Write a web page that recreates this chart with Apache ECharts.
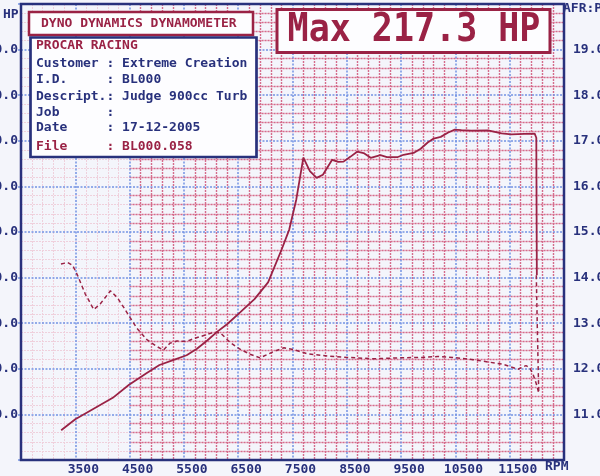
<!DOCTYPE html>
<html>
<head>
<meta charset="utf-8">
<script src="https://cdn.jsdelivr.net/npm/echarts@6/dist/echarts.min.js"></script>
<style>
html,body{margin:0;padding:0;background:#f4f5fb;}
#chart{width:600px;height:476px;}
</style>
</head>
<body>
<div id="chart"></div>
<script>
// ---- data ----
const powerRpm = [3240,3500,3870,4190,4490,4810,5050,5300,5550,5740,5930,6110,6300,6540,6800,7050,7300,7440,7570,7700,7820,7945,8060,8230,8340,8440,8570,8690,8810,8940,9120,9240,9430,9545,9730,9860,9990,10100,10230,10360,10480,10610,10790,11100,11350,11530,11770,11960,11990,12000];
const powerHp  = [19.6,26.8,34.4,40.9,49.5,57.1,62.5,65.7,68.9,73.2,78.6,84.3,89.5,97.3,105.8,116.9,138.5,151.6,171.4,198.9,190.0,185.6,187.7,197.5,196.2,196.3,199.6,202.8,201.9,198.8,200.5,199.3,199.2,200.8,202.0,204.8,208.9,211.5,212.6,215.3,217.3,217.0,216.7,216.9,214.9,214.2,214.6,214.7,212.0,121.5];
const afrRpm = [3236,3360,3451,3541,3684,3840,3958,4147,4274,4395,4510,4635,4818,5000,5123,5241,5370,5555,5680,5866,6052,6169,6350,6533,6718,6901,7156,7342,7526,7773,8143,8513,8975,9437,9899,10176,10453,10823,11100,11377,11652,11800,11870,11930,11985,12035,12010,11990];
const afrValues = [14.30,14.33,14.27,14.05,13.64,13.30,13.42,13.71,13.56,13.34,13.12,12.89,12.64,12.49,12.41,12.56,12.61,12.60,12.66,12.73,12.80,12.79,12.58,12.43,12.32,12.24,12.38,12.46,12.42,12.33,12.28,12.25,12.22,12.24,12.25,12.27,12.25,12.20,12.15,12.10,11.99,12.07,12.02,11.88,11.69,11.47,12.80,14.05];
const rpmTicks = {min:2500, max:12500, step:1000};
const hpTicks  = {min:0, max:300, step:30};
const afrTicks = {min:10, max:20, step:1};
const infoLines = [
  'Customer : Extreme Creation',
  'I.D.     : BL000',
  'Descript.: Judge 900cc Turb',
  'Job      :',
  'Date     : 17-12-2005'
];
const fileLine = 'File     : BL000.058';
const headerText = 'DYNO DYNAMICS DYNAMOMETER';
const companyText = 'PROCAR RACING';
const maxText = 'Max 217.3 HP';

// ---- styling ----
const NAVY = '#28317c';
const MAROON = '#9a2245';
const BLUE = '#7393e4';
const RED = '#d56c8c';
const FAINT = '#efd0dc';
const MONO = '"DejaVu Sans Mono", monospace';

const G = {left:21, top:4, width:543, height:456};
const redLeft = G.left + (4500 - rpmTicks.min) / (rpmTicks.max - rpmTicks.min) * G.width;

const chart = echarts.init(document.getElementById('chart'), null, {renderer:'canvas'});

const hidden = {axisLine:{show:false}, axisTick:{show:false}, axisLabel:{show:false}, splitLine:{show:false}};
const powerData = powerRpm.map((r,i)=>[r, powerHp[i]]);
const afrData = afrRpm.map((r,i)=>[r, afrValues[i]]);

function txt(text, x, y, color, size, align, extra) {
  return Object.assign({
    type:'text', x:x, y:y, z:120,
    style:{text:text, fill:color, fontFamily:MONO, fontWeight:'bold', fontSize:size,
           textAlign:align||'left', textVerticalAlign:'middle'}
  }, extra||{});
}

const graphics = [
  {type:'rect', z:110, shape:{x:29, y:12, width:224, height:23},
   style:{fill:'#fdfdff', stroke:MAROON, lineWidth:2.5}},
  {type:'rect', z:110, shape:{x:30.5, y:37.5, width:226, height:119.5},
   style:{fill:'#fdfdff', stroke:NAVY, lineWidth:2.7}},
  txt(headerText, 41, 23.5, MAROON, 13),
  txt(companyText, 36, 46, MAROON, 13),
  {type:'rect', z:110, shape:{x:277, y:9.5, width:273, height:43},
   style:{fill:'#fdfdff', stroke:MAROON, lineWidth:3}},
  txt(maxText, 414, 30.5, MAROON, 35, 'center', {scaleY:1.14}),
  txt(fileLine, 36, 146.5, MAROON, 13),
  txt('HP', 3, 15, NAVY, 13),
  txt('AFR:P', 563, 9, NAVY, 13),
  txt('RPM', 545, 467, NAVY, 13)
];
const rowsY = [64, 80, 96.5, 112.5, 128];
infoLines.forEach((t,i)=>graphics.push(txt(t, 36, rowsY[i], NAVY, 13)));

const gridBase = {top:G.top, height:G.height, outerBoundsMode:'none', containLabel:false};
const option = {
  backgroundColor:'#f4f5fb',
  animation:false,
  grid:[
    Object.assign({left:G.left, width:G.width, show:false}, gridBase),
    Object.assign({left:redLeft, width:G.left + G.width - redLeft, show:false}, gridBase),
    Object.assign({left:G.left, width:G.width, show:true, z:5,
     backgroundColor:'transparent', borderColor:NAVY, borderWidth:2.5}, gridBase)
  ],
  xAxis:[
    Object.assign({type:'value', gridIndex:0, min:rpmTicks.min, max:rpmTicks.max, interval:rpmTicks.step, z:0,
      minorTick:{show:false, splitNumber:5}}, hidden,
      {minorSplitLine:{show:true, lineStyle:{color:FAINT, width:1, type:[2,1]}}}),
    Object.assign({type:'value', gridIndex:1, min:4500, max:rpmTicks.max, interval:rpmTicks.step, z:1,
      minorTick:{show:false, splitNumber:5}}, hidden,
      {minorSplitLine:{show:true, lineStyle:{color:RED, width:1.4, type:[2,1]}}}),
    {type:'value', gridIndex:2, min:rpmTicks.min, max:rpmTicks.max, interval:rpmTicks.step, z:2,
      axisLine:{show:false}, axisTick:{show:false},
      splitLine:{show:true, lineStyle:{color:BLUE, width:1.5, type:[2,1.5]}},
      axisLabel:{margin:3, padding:[0,0,0,16], color:NAVY, fontFamily:MONO, fontWeight:'bold', fontSize:13,
        formatter:v => (v===rpmTicks.min || v===rpmTicks.max) ? '' : String(v)}}
  ],
  yAxis:[
    Object.assign({type:'value', gridIndex:0, min:hpTicks.min, max:hpTicks.max, interval:hpTicks.step, z:0,
      minorTick:{show:false, splitNumber:5}}, hidden,
      {minorSplitLine:{show:true, lineStyle:{color:FAINT, width:1, type:[2,1]}}}),
    Object.assign({type:'value', gridIndex:1, min:hpTicks.min, max:hpTicks.max, interval:hpTicks.step, z:1,
      minorTick:{show:false, splitNumber:5}}, hidden,
      {minorSplitLine:{show:true, lineStyle:{color:RED, width:1.4, type:[2,1]}}}),
    {type:'value', gridIndex:2, position:'left', min:hpTicks.min, max:hpTicks.max, interval:hpTicks.step, z:2,
      axisLine:{show:false},
      axisTick:{show:true, length:3, lineStyle:{color:BLUE, width:1.5}},
      splitLine:{show:true, lineStyle:{color:BLUE, width:1.5, type:[2,1.5]}},
      axisLabel:{margin:3, color:NAVY, fontFamily:MONO, fontWeight:'bold', fontSize:13,
        formatter:v => (v===hpTicks.min || v===hpTicks.max) ? '' : v.toFixed(1)}},
    {type:'value', gridIndex:2, position:'right', min:afrTicks.min, max:afrTicks.max, interval:afrTicks.step, z:2,
      axisLine:{show:false}, axisTick:{show:false}, splitLine:{show:false},
      axisLabel:{margin:9, color:NAVY, fontFamily:MONO, fontWeight:'bold', fontSize:13,
        formatter:v => (v===afrTicks.min || v===afrTicks.max) ? '' : v.toFixed(1)}}
  ],
  series:[
    {name:'Power', type:'line', xAxisIndex:2, yAxisIndex:2, data:powerData, showSymbol:false, z:10,
     lineStyle:{color:MAROON, width:1.8}},
    {name:'AFR', type:'line', xAxisIndex:2, yAxisIndex:3, data:afrData, showSymbol:false, z:10,
     lineStyle:{color:MAROON, width:1.5, type:[4,3]}}
  ],
  graphic:graphics
};
chart.setOption(option);
</script>
</body>
</html>
